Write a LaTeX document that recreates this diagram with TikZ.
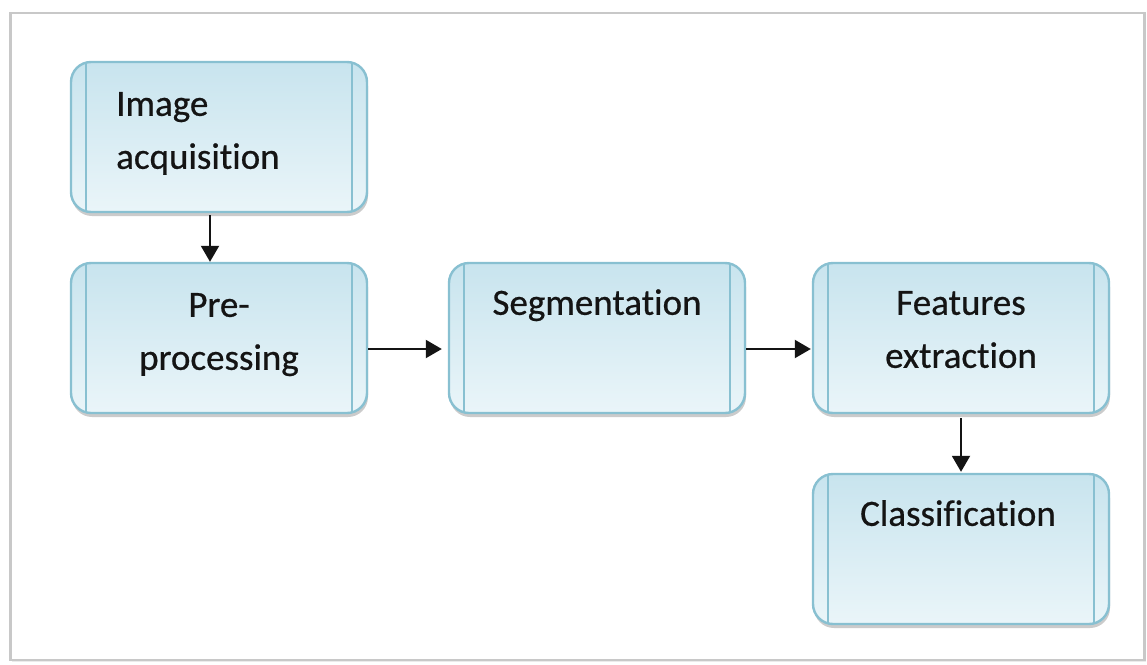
\documentclass[tikz,border=0pt]{standalone}
\usepackage{fontspec}
\setmainfont{Carlito}[Ligatures={NoCommon}]
\usetikzlibrary{arrows.meta,shadows}

\definecolor{boxedge}{RGB}{136,192,209}
\definecolor{boxtop}{RGB}{200,228,238}
\definecolor{boxbot}{RGB}{234,245,249}
\definecolor{frameline}{RGB}{200,200,200}
\definecolor{ink}{RGB}{20,20,20}

\tikzset{
  procbox/.style={
    draw=boxedge, line width=2.4pt, rounded corners=20pt,
    minimum width=296pt, minimum height=150pt, inner sep=0pt,
    top color=boxtop, bottom color=boxbot,
    drop shadow={shadow xshift=1pt, shadow yshift=-4pt, fill=black!45, opacity=0.45},
    path picture={
      \draw[boxedge, line width=2.4pt]
        ([xshift=15pt]path picture bounding box.north west) --
        ([xshift=15pt]path picture bounding box.south west);
      \draw[boxedge, line width=2.4pt]
        ([xshift=-15pt]path picture bounding box.north east) --
        ([xshift=-15pt]path picture bounding box.south east);
    }
  },
  boxtext/.style={anchor=base, inner sep=0pt, text=ink,
    font=\fontsize{37}{53}\selectfont\addfontfeature{FakeBold=0.6}},
  flow/.style={draw=ink, line width=2pt,
    -{Triangle[length=16pt, width=18pt]}}
}

\newcommand{\twolines}[3]{\begin{tabular}[t]{@{}#1@{}}#2\\#3\end{tabular}}

\begin{document}
\begin{tikzpicture}[x=1pt, y=-1pt]
  \useasboundingbox (0,0) rectangle (1147,664);

  % outer frame
  \node[draw=frameline, line width=2.5pt, minimum width=1134pt,
        minimum height=647pt, inner sep=0pt,
        drop shadow={shadow xshift=1.5pt, shadow yshift=-1.5pt, fill=black!20, opacity=0.4},
        fill=white] (frame) at (577.5,336.5) {};

  % process boxes
  \node[procbox] (acq)  at (219,137) {};
  \node[procbox] (pre)  at (219,338) {};
  \node[procbox] (seg)  at (597,338) {};
  \node[procbox] (feat) at (961,338) {};
  \node[procbox] (cls)  at (961,549) {};

  % box captions
  \node[boxtext, anchor=base west] (acqT) at ([xshift=-103pt, yshift=-55pt]acq.north)
    {\twolines{l}{Image}{acquisition}};
  \node[boxtext] (preT)  at ([yshift=-55pt]pre.north)  {\twolines{c}{Pre-}{processing}};
  \node[boxtext] (segT)  at ([yshift=-53pt]seg.north)  {Segmentation};
  \node[boxtext] (featT) at ([yshift=-53pt]feat.north) {\twolines{c}{Features}{extraction}};
  \node[boxtext] (clsT)  at ([yshift=-53pt, xshift=-3pt]cls.north) {Classification};

  % connectors
  \draw[flow] ([xshift=-9pt, yshift=-2pt]acq.south) -- ([xshift=-9pt]pre.north);
  \draw[flow] ([yshift=-11pt]pre.east) -- ([xshift=-6pt, yshift=-11pt]seg.west);
  \draw[flow] ([yshift=-11pt]seg.east) -- ([xshift=-1pt, yshift=-11pt]feat.west);
  \draw[flow] ([yshift=-4pt]feat.south) -- ([yshift=1pt]cls.north);
\end{tikzpicture}
\end{document}
